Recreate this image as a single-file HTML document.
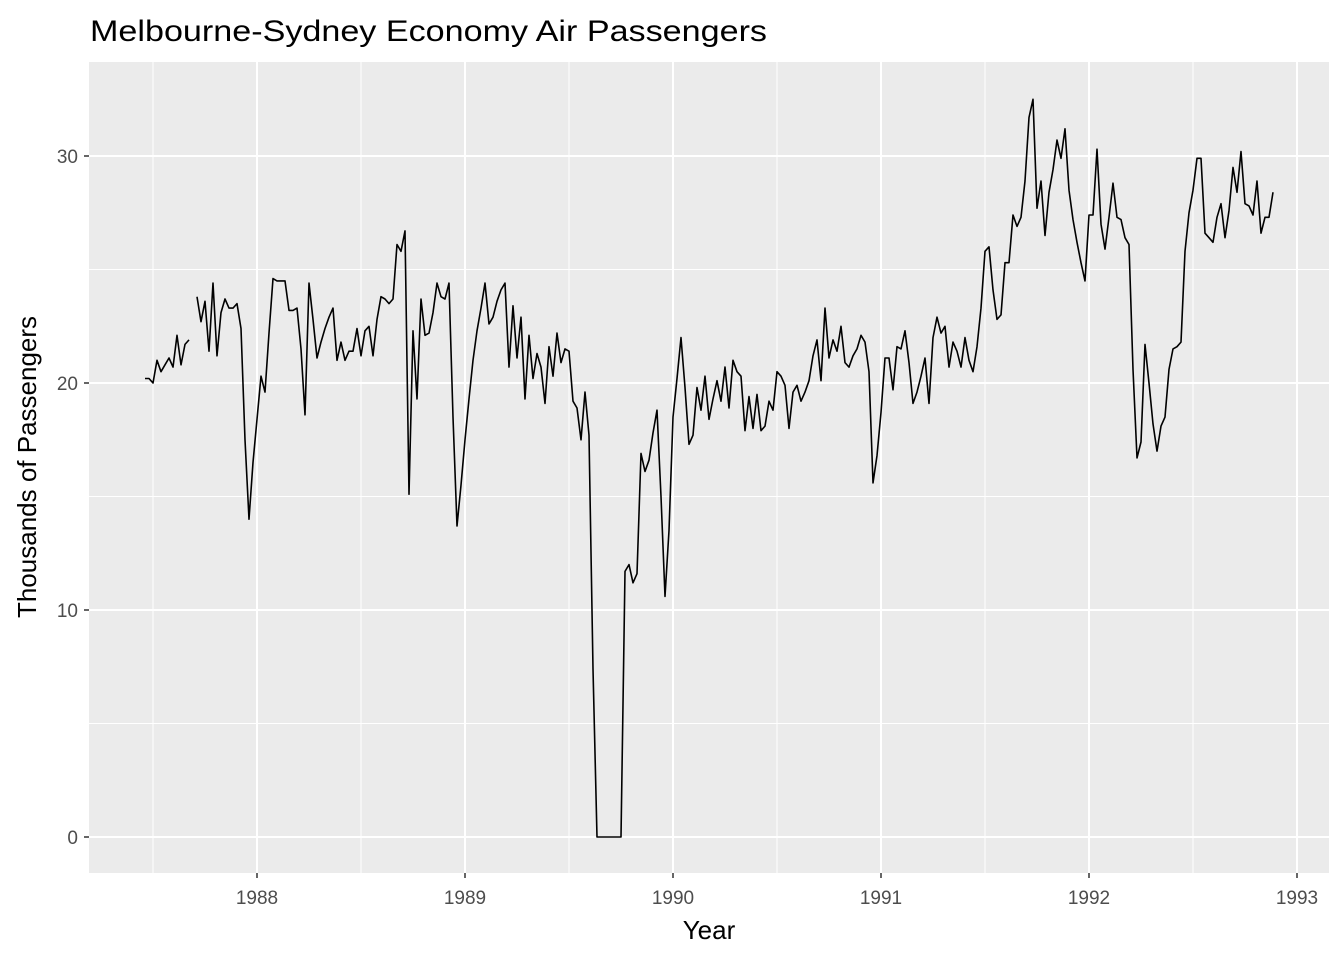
<!DOCTYPE html>
<html><head><meta charset="utf-8"><style>
html,body{margin:0;padding:0;background:#fff;}
svg{display:block;font-family:"Liberation Sans",Arial,sans-serif;}
</style></head><body>
<svg id="chart" width="1344" height="960" viewBox="0 0 1344 960" xmlns="http://www.w3.org/2000/svg">
<rect x="0" y="0" width="1344" height="960" fill="#fff"/>
<text x="90" y="41" font-size="30" textLength="677" lengthAdjust="spacingAndGlyphs" fill="#000">Melbourne-Sydney Economy Air Passengers</text>
<rect x="89" y="62" width="1240" height="811" fill="#EBEBEB"/>
<g id="grid"></g>
<g id="axes"></g>
<path id="series" fill="none" stroke="#000" stroke-width="1.6" stroke-linejoin="round"/>
<text x="709" y="939" font-size="26" text-anchor="middle" fill="#000">Year</text>
<text transform="translate(36,467) rotate(-90)" font-size="26" text-anchor="middle" fill="#000">Thousands of Passengers</text>
</svg>
<script>
const startYear = 1987 + 24/52;
const weeksPerYear = 52;
const passengers = [20.2,20.2,20.0,21.0,20.5,20.8,21.1,20.7,22.1,20.8,21.7,21.9,null,23.8,22.7,23.6,21.4,24.4,21.2,23.1,23.7,23.3,23.3,23.5,22.4,17.5,14.0,16.5,18.4,20.3,19.6,22.2,24.6,24.5,24.5,24.5,23.2,23.2,23.3,21.5,18.6,24.4,22.8,21.1,21.8,22.4,22.9,23.3,21.0,21.8,21.0,21.4,21.4,22.4,21.2,22.3,22.5,21.2,22.8,23.8,23.7,23.5,23.7,26.1,25.8,26.7,15.1,22.3,19.3,23.7,22.1,22.2,23.1,24.4,23.8,23.7,24.4,18.5,13.7,15.5,17.5,19.3,21.0,22.3,23.3,24.4,22.6,22.9,23.6,24.1,24.4,20.7,23.4,21.1,22.9,19.3,22.1,20.2,21.3,20.7,19.1,21.6,20.3,22.2,20.9,21.5,21.4,19.2,18.9,17.5,19.6,17.7,7.4,0,0,0,0,0,0,0,11.7,12.0,11.2,11.6,16.9,16.1,16.6,17.8,18.8,15.0,10.6,13.5,18.5,20.2,22.0,19.8,17.3,17.7,19.8,18.8,20.3,18.4,19.3,20.1,19.2,20.7,18.9,21.0,20.5,20.3,17.9,19.4,18.0,19.5,17.9,18.1,19.2,18.8,20.5,20.3,19.9,18.0,19.6,19.9,19.2,19.6,20.1,21.2,21.9,20.1,23.3,21.1,21.9,21.4,22.5,20.9,20.7,21.2,21.5,22.1,21.8,20.5,15.6,16.8,18.7,21.1,21.1,19.7,21.6,21.5,22.3,20.9,19.1,19.6,20.3,21.1,19.1,22.0,22.9,22.2,22.5,20.7,21.8,21.4,20.7,22.0,21.0,20.5,21.6,23.3,25.8,26.0,24.1,22.8,23.0,25.3,25.3,27.4,26.9,27.3,28.9,31.7,32.5,27.7,28.9,26.5,28.4,29.4,30.7,29.9,31.2,28.5,27.2,26.2,25.3,24.5,27.4,27.4,30.3,27.0,25.9,27.3,28.8,27.3,27.2,26.4,26.1,20.6,16.7,17.4,21.7,20.0,18.2,17.0,18.1,18.5,20.6,21.5,21.6,21.8,25.8,27.5,28.5,29.9,29.9,26.6,26.4,26.2,27.3,27.9,26.4,27.6,29.5,28.4,30.2,27.9,27.8,27.4,28.9,26.6,27.3,27.3,28.4];
const xTicks = [1988,1989,1990,1991,1992,1993];
const xMinor = [1987.5,1988.5,1989.5,1990.5,1991.5,1992.5];
const yTicks = [0,10,20,30];
const yMinor = [5,15,25];

const NS = "http://www.w3.org/2000/svg";
function xs(t){ return 257 + (t - 1988) * 208; }
function ys(v){ return 837 - v * 22.7; }
const grid = document.getElementById('grid');
const axes = document.getElementById('axes');
function line(parent, x1, y1, x2, y2, stroke, w){
  const l = document.createElementNS(NS, 'line');
  l.setAttribute('x1', x1); l.setAttribute('y1', y1);
  l.setAttribute('x2', x2); l.setAttribute('y2', y2);
  l.setAttribute('stroke', stroke); l.setAttribute('stroke-width', w);
  parent.appendChild(l);
  return l;
}
yMinor.forEach(v => {
  const l = line(grid, 89, ys(v), 1329, ys(v), '#fff', 1);
  
  
});
xMinor.forEach(t => {
  const l = line(grid, xs(t), 62, xs(t), 873, '#fff', 1);
  
  
});
yTicks.forEach(v => {
  const l = line(grid, 89, ys(v), 1329, ys(v), '#fff', 2);
  
  
  const tk = line(axes, 84, ys(v), 89, ys(v), '#333', 1.5);
  
  
  const tx = document.createElementNS(NS, 'text');
  tx.setAttribute('x', 78); tx.setAttribute('y', ys(v) + 7);
  tx.setAttribute('text-anchor', 'end'); tx.setAttribute('font-size', '19');
  tx.setAttribute('fill', '#4D4D4D');
  tx.textContent = v;
  
  
  axes.appendChild(tx);
});
xTicks.forEach(t => {
  const l = line(grid, xs(t), 62, xs(t), 873, '#fff', 2);
  
  
  const tk = line(axes, xs(t), 873, xs(t), 878, '#333', 1.5);
  
  
  const tx = document.createElementNS(NS, 'text');
  tx.setAttribute('x', xs(t)); tx.setAttribute('y', 904);
  tx.setAttribute('text-anchor', 'middle'); tx.setAttribute('font-size', '19');
  tx.setAttribute('fill', '#4D4D4D');
  tx.textContent = t;
  
  
  axes.appendChild(tx);
});
let d = ''; let pen = false;
passengers.forEach((v, i) => {
  if (v === null) { pen = false; return; }
  const x = xs(startYear + i / weeksPerYear), y = ys(v);
  d += (pen ? 'L' : 'M') + x.toFixed(1) + ',' + y.toFixed(1);
  pen = true;
});
document.getElementById('series').setAttribute('d', d);
</script>
</body></html>
